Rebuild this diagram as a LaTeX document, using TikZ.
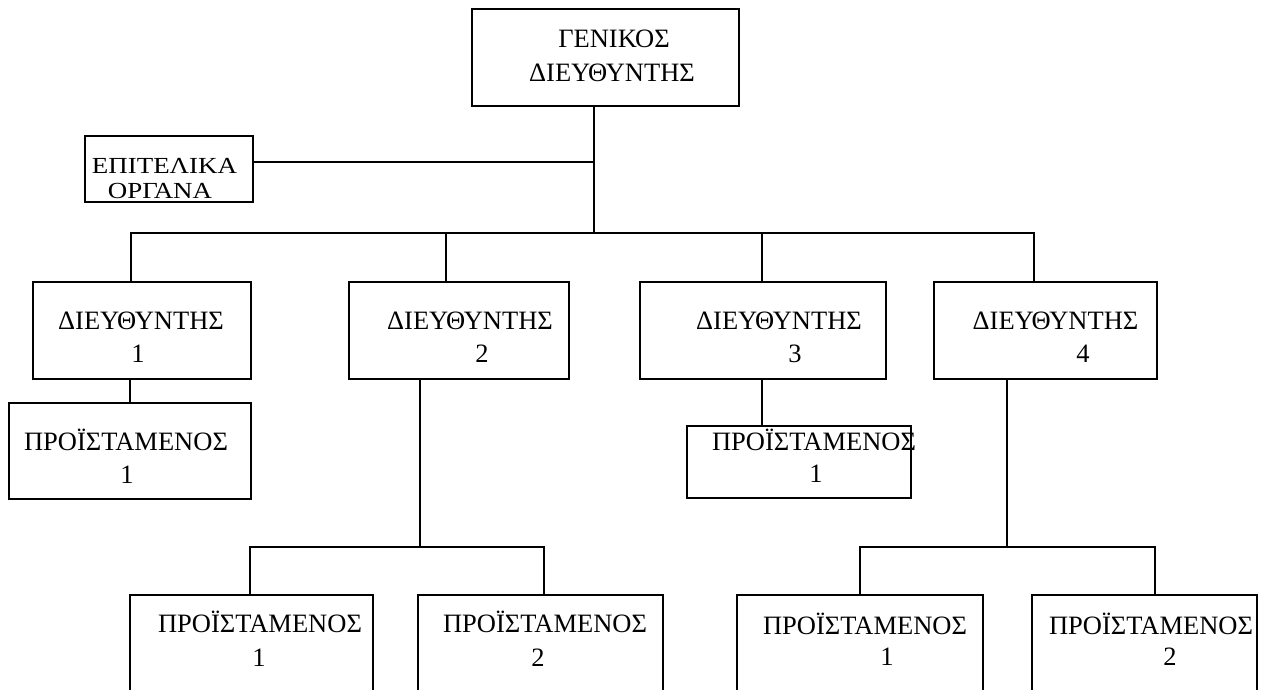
\documentclass[tikz,border=0pt]{standalone}
\usepackage{fontspec}
\setmainfont{Liberation Serif}
\newfontfamily\widefont{Liberation Serif}[FakeStretch=1.17]
\begin{document}
\begin{tikzpicture}[x=1pt,y=-1pt,
  box/.style={draw, line width=1.6pt, inner sep=0pt},
  wire/.style={line width=1.3pt},
  txt/.style={anchor=base, inner sep=0pt, font=\fontsize{26.5}{33}\selectfont},
  widetxt/.style={anchor=base, inner sep=0pt, font=\widefont\fontsize{23}{28}\selectfont}]
\useasboundingbox (0,0) rectangle (1261,690);
\clip (0,0) rectangle (1261,690);

% boxes
\node[box, minimum width=267pt, minimum height=97pt] (gen) at (605.5,57.5) {};
\node[box, minimum width=168pt, minimum height=66pt] (ep) at (169,169) {};
\node[box, minimum width=218pt, minimum height=97pt] (d1) at (142,330.5) {};
\node[box, minimum width=220pt, minimum height=97pt] (d2) at (459,330.5) {};
\node[box, minimum width=246pt, minimum height=97pt] (d3) at (763,330.5) {};
\node[box, minimum width=223pt, minimum height=97pt] (d4) at (1045.5,330.5) {};
\node[box, minimum width=242pt, minimum height=96pt] (p1) at (130,451) {};
\node[box, minimum width=224pt, minimum height=72pt] (p3) at (799,462) {};
\node[box, minimum width=243pt, minimum height=125pt] (p2a) at (251.5,657.5) {};
\node[box, minimum width=245pt, minimum height=125pt] (p2b) at (540.5,657.5) {};
\node[box, minimum width=246pt, minimum height=125pt] (p4a) at (860,657.5) {};
\node[box, minimum width=225pt, minimum height=125pt] (p4b) at (1144.5,657.5) {};

% texts
\node[txt] (gen1) at (614,48) {ΓΕΝΙΚΟΣ};
\node[txt] (gen2) at (612,82) {ΔΙΕΥΘΥΝΤΗΣ};
\node[widetxt] (ep1) at (164.5,173) {ΕΠΙΤΕΛΙΚΑ};
\node[widetxt] (ep2) at (160,198) {ΟΡΓΑΝΑ};
\node[txt] (d1a) at (141,329) {ΔΙΕΥΘΥΝΤΗΣ};
\node[txt] (d1b) at (138,362) {1};
\node[txt] (d2a) at (470,329) {ΔΙΕΥΘΥΝΤΗΣ};
\node[txt] (d2b) at (482,362) {2};
\node[txt] (d3a) at (779,329) {ΔΙΕΥΘΥΝΤΗΣ};
\node[txt] (d3b) at (795,362) {3};
\node[txt] (d4a) at (1055.5,329) {ΔΙΕΥΘΥΝΤΗΣ};
\node[txt] (d4b) at (1083,362) {4};
\node[txt] (p1a) at (126,450) {ΠΡΟΪΣΤΑΜΕΝΟΣ};
\node[txt] (p1b) at (127,483) {1};
\node[txt] (p3a) at (814,450) {ΠΡΟΪΣΤΑΜΕΝΟΣ};
\node[txt] (p3b) at (816,482) {1};
\node[txt] (p2aa) at (260,632) {ΠΡΟΪΣΤΑΜΕΝΟΣ};
\node[txt] (p2ab) at (259,666) {1};
\node[txt] (p2ba) at (545,632) {ΠΡΟΪΣΤΑΜΕΝΟΣ};
\node[txt] (p2bb) at (538,666) {2};
\node[txt] (p4aa) at (865,634) {ΠΡΟΪΣΤΑΜΕΝΟΣ};
\node[txt] (p4ab) at (887,665) {1};
\node[txt] (p4ba) at (1151,634) {ΠΡΟΪΣΤΑΜΕΝΟΣ};
\node[txt] (p4bb) at (1170,665) {2};

% connectors
\coordinate (trunk) at (594,233);
\coordinate (eptap) at (594,162);
\draw[wire] (gen.south -| trunk) -- (trunk);
\draw[wire] (ep.east |- eptap) -- (eptap);
\coordinate (b1) at (131,233);
\coordinate (b2) at (446,233);
\coordinate (b3) at (762,233);
\coordinate (b4) at (1034,233);
\draw[wire] (b1 |- d1.north) -- (b1) -- (b4) -- (b4 |- d4.north);
\draw[wire] (b2) -- (b2 |- d2.north);
\draw[wire] (b3) -- (b3 |- d3.north);
\coordinate (c1) at (130,0);
\draw[wire] (d1.south -| c1) -- (p1.north -| c1);
\coordinate (c2) at (420,547);
\draw[wire] (d2.south -| c2) -- (c2);
\coordinate (s2a) at (250,547);
\coordinate (s2b) at (544,547);
\draw[wire] (s2a |- p2a.north) -- (s2a) -- (s2b) -- (s2b |- p2b.north);
\coordinate (c3) at (762,0);
\draw[wire] (d3.south -| c3) -- (p3.north -| c3);
\coordinate (c4) at (1007,547);
\draw[wire] (d4.south -| c4) -- (c4);
\coordinate (s4a) at (860,547);
\coordinate (s4b) at (1155,547);
\draw[wire] (s4a |- p4a.north) -- (s4a) -- (s4b) -- (s4b |- p4b.north);
\end{tikzpicture}
\end{document}
